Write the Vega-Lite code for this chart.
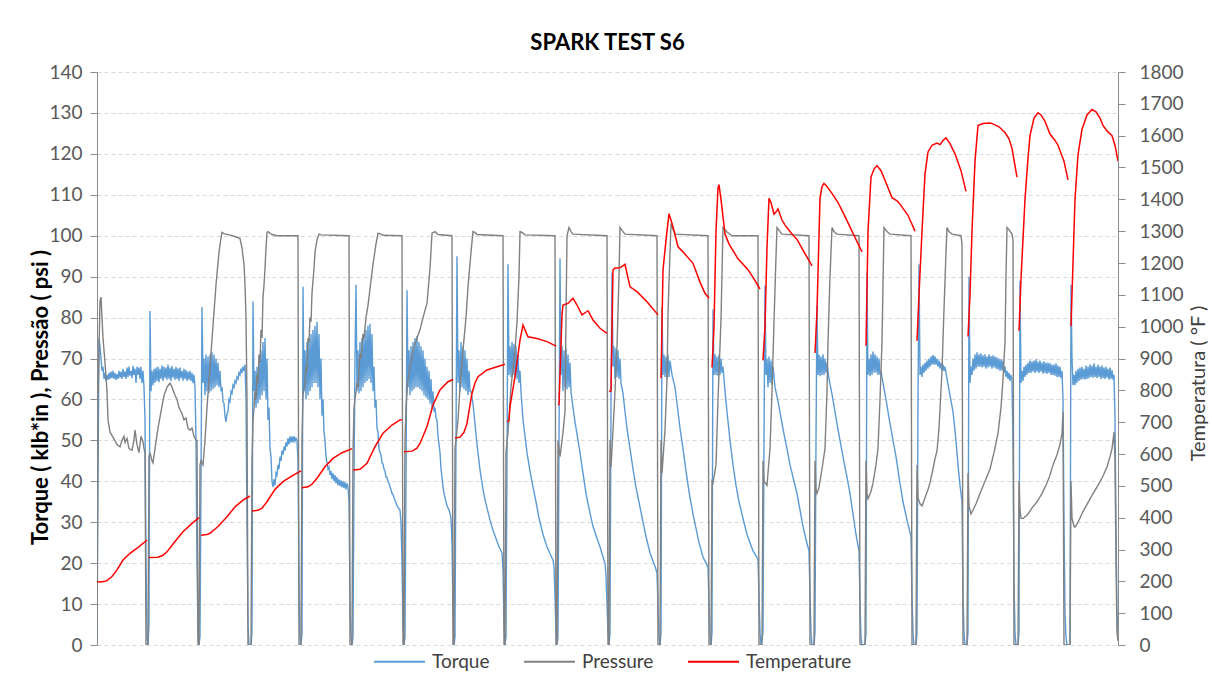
{
  "$schema": "https://vega.github.io/schema/vega-lite/v6.json",
  "width": 1021,
  "height": 573,
  "autosize": {"type": "none"},
  "padding": {"left": 97, "top": 72, "right": 94, "bottom": 48},
  "background": "#FFFFFF",
  "title": {"text": "SPARK TEST S6", "font": "Lato", "fontSize": 22, "fontWeight": "bold", "color": "#000000", "anchor": "middle", "frame": "group", "offset": 8},
  "config": {"view": {"stroke": null}, "font": "Lato"},
  "datasets": {
    "torque": [
      {"t":0,"v":0},{"t":1,"v":40},{"t":2,"v":75},{"t":3,"v":73},{"t":4,"v":70},{"t":5,"v":67},{"t":6,"v":68},{"t":7,"v":65},{"t":8,"v":66.5},{"t":9,"v":64.5},{"t":10,"v":66},{"t":11,"v":64.8},{"t":12,"v":66.5},{"t":13,"v":65},{"t":14,"v":66.8},{"t":15,"v":65.2},{"t":16,"v":67},{"t":17,"v":65},{"t":18,"v":66.5},{"t":19,"v":64.8},{"t":20,"v":66.2},{"t":21,"v":65},{"t":22,"v":67},{"t":23,"v":65.3},{"t":24,"v":66.8},{"t":25,"v":65},{"t":26,"v":67.5},{"t":27,"v":65.5},{"t":28,"v":66.8},{"t":29,"v":65},{"t":30,"v":67.8},{"t":31,"v":65.5},{"t":32,"v":68},{"t":33,"v":65.8},{"t":34,"v":67},{"t":35,"v":65.2},{"t":36,"v":68.2},{"t":37,"v":66},{"t":38,"v":67.5},{"t":39,"v":64},{"t":40,"v":68},{"t":41,"v":66},{"t":42,"v":67.8},{"t":43,"v":65},{"t":44,"v":68},{"t":45,"v":64},{"t":46,"v":67},{"t":47,"v":63},{"t":48,"v":55},{"t":49,"v":20},{"t":50,"v":2},{"t":51,"v":0},
      {"t":52,"v":5},{"t":53,"v":81.6},{"t":54,"v":62},{"t":55,"v":67},{"t":56,"v":63.5},{"t":57,"v":67.5},{"t":58,"v":64},{"t":59,"v":67.8},{"t":60,"v":64.5},{"t":61,"v":68},{"t":62,"v":64.2},{"t":63,"v":67.5},{"t":64,"v":65},{"t":65,"v":68.3},{"t":66,"v":64.5},{"t":67,"v":68},{"t":68,"v":65.2},{"t":69,"v":67.8},{"t":70,"v":64.8},{"t":71,"v":68.5},{"t":72,"v":65},{"t":73,"v":67.8},{"t":74,"v":64.5},{"t":75,"v":68.2},{"t":76,"v":65.3},{"t":77,"v":67.5},{"t":78,"v":64.8},{"t":79,"v":68},{"t":80,"v":65},{"t":81,"v":67.6},{"t":82,"v":64.5},{"t":83,"v":67.8},{"t":84,"v":65.2},{"t":85,"v":67},{"t":86,"v":64.6},{"t":87,"v":67.5},{"t":88,"v":65},{"t":89,"v":67.2},{"t":90,"v":64.5},{"t":91,"v":66.8},{"t":92,"v":64.8},{"t":93,"v":67},{"t":94,"v":64.5},{"t":95,"v":66.5},{"t":96,"v":64},{"t":97,"v":66},{"t":98,"v":63},{"t":99,"v":50},{"t":100,"v":20},{"t":101,"v":3},{"t":102,"v":0},
      {"t":103,"v":2},{"t":104,"v":40},{"t":105,"v":82.6},{"t":106,"v":64},{"t":107,"v":70},{"t":108,"v":61},{"t":109,"v":71},{"t":110,"v":62},{"t":111,"v":70.5},{"t":112,"v":61.5},{"t":113,"v":71},{"t":114,"v":62},{"t":115,"v":71.5},{"t":116,"v":62.5},{"t":117,"v":71},{"t":118,"v":63},{"t":119,"v":70},{"t":120,"v":63.5},{"t":121,"v":69},{"t":122,"v":63},{"t":123,"v":67},{"t":124,"v":62},{"t":125,"v":63},{"t":126,"v":59.5},{"t":127,"v":59},{"t":128,"v":56},{"t":129,"v":54.5},{"t":130,"v":56.5},{"t":131,"v":57},{"t":132,"v":60},{"t":133,"v":59.5},{"t":134,"v":62},{"t":135,"v":61.5},{"t":136,"v":63.5},{"t":137,"v":63},{"t":138,"v":64.5},{"t":139,"v":64},{"t":140,"v":65.5},{"t":141,"v":65},{"t":142,"v":66.5},{"t":143,"v":66},{"t":144,"v":67.5},{"t":145,"v":66.5},{"t":146,"v":68},{"t":147,"v":67},{"t":148,"v":68.5},{"t":149,"v":60},{"t":150,"v":30},{"t":151,"v":5},{"t":152,"v":0},{"t":154,"v":0},
      {"t":155,"v":3},{"t":156,"v":84},{"t":157,"v":62},{"t":158,"v":67},{"t":159,"v":58},{"t":160,"v":68},{"t":161,"v":59},{"t":162,"v":70},{"t":163,"v":60},{"t":164,"v":72},{"t":165,"v":61},{"t":166,"v":74},{"t":167,"v":62},{"t":168,"v":75},{"t":169,"v":60},{"t":170,"v":70},{"t":171,"v":55},{"t":172,"v":58},{"t":173,"v":48},{"t":174,"v":46},{"t":175,"v":40},{"t":176,"v":38.6},{"t":177,"v":40.5},{"t":178,"v":39},{"t":179,"v":42},{"t":180,"v":41.5},{"t":181,"v":44},{"t":182,"v":43},{"t":183,"v":46},{"t":184,"v":45},{"t":185,"v":47.5},{"t":186,"v":46.5},{"t":187,"v":48.5},{"t":188,"v":47.5},{"t":189,"v":49.5},{"t":190,"v":48.5},{"t":191,"v":50.5},{"t":192,"v":49},{"t":193,"v":51},{"t":194,"v":49.5},{"t":195,"v":51},{"t":196,"v":49.5},{"t":197,"v":51},{"t":198,"v":49.8},{"t":199,"v":50.5},{"t":200,"v":50},{"t":201,"v":45},{"t":202,"v":15},{"t":203,"v":2},{"t":204,"v":0},
      {"t":205,"v":3},{"t":206,"v":87.5},{"t":207,"v":62},{"t":208,"v":72},{"t":209,"v":60},{"t":210,"v":74},{"t":211,"v":61},{"t":212,"v":75},{"t":213,"v":62},{"t":214,"v":76},{"t":215,"v":63},{"t":216,"v":77},{"t":217,"v":64},{"t":218,"v":78},{"t":219,"v":64},{"t":220,"v":79},{"t":221,"v":63},{"t":222,"v":76},{"t":223,"v":60},{"t":224,"v":70},{"t":225,"v":56},{"t":226,"v":60},{"t":227,"v":52},{"t":228,"v":50},{"t":229,"v":46},{"t":230,"v":44.5},{"t":231,"v":43},{"t":232,"v":43.5},{"t":233,"v":41.5},{"t":234,"v":42.5},{"t":235,"v":40.5},{"t":236,"v":42},{"t":237,"v":40},{"t":238,"v":41.5},{"t":239,"v":39.5},{"t":240,"v":41},{"t":241,"v":39},{"t":242,"v":40.5},{"t":243,"v":38.8},{"t":244,"v":40.2},{"t":245,"v":38.5},{"t":246,"v":40},{"t":247,"v":38.3},{"t":248,"v":39.8},{"t":249,"v":38},{"t":250,"v":39.5},{"t":251,"v":38.6},{"t":252,"v":35},{"t":253,"v":10},{"t":254,"v":2},{"t":255,"v":0},
      {"t":256,"v":2},{"t":257,"v":40},{"t":258,"v":70},{"t":259,"v":88},{"t":260,"v":62},{"t":261,"v":72},{"t":262,"v":61.5},{"t":263,"v":74},{"t":264,"v":62},{"t":265,"v":75},{"t":266,"v":63},{"t":267,"v":76},{"t":268,"v":64},{"t":269,"v":77},{"t":270,"v":64.5},{"t":271,"v":78},{"t":272,"v":65},{"t":273,"v":78.5},{"t":274,"v":64},{"t":275,"v":76},{"t":276,"v":62},{"t":277,"v":68},{"t":278,"v":58},{"t":279,"v":60},{"t":280,"v":53},{"t":281,"v":52},{"t":282,"v":48},{"t":283,"v":47},{"t":284,"v":46.5},{"t":285,"v":44.5},{"t":286,"v":44.2},{"t":287,"v":43},{"t":288,"v":42.5},{"t":289,"v":41},{"t":290,"v":41},{"t":291,"v":40},{"t":292,"v":39.5},{"t":293,"v":38.6},{"t":294,"v":38},{"t":295,"v":37},{"t":296,"v":36.8},{"t":297,"v":36},{"t":298,"v":35.3},{"t":299,"v":34.8},{"t":300,"v":34},{"t":301,"v":33.7},{"t":302,"v":33.2},{"t":303,"v":33},{"t":304,"v":30},{"t":305,"v":20},{"t":306,"v":5},{"t":307,"v":0},
      {"t":308,"v":2},{"t":309,"v":40},{"t":310,"v":86.7},{"t":311,"v":63},{"t":312,"v":72},{"t":313,"v":61},{"t":314,"v":73},{"t":315,"v":62},{"t":316,"v":74},{"t":317,"v":62.5},{"t":318,"v":75},{"t":319,"v":63},{"t":320,"v":75.5},{"t":321,"v":63},{"t":322,"v":74},{"t":323,"v":62.5},{"t":324,"v":73},{"t":325,"v":62},{"t":326,"v":72},{"t":327,"v":61},{"t":328,"v":70},{"t":329,"v":60.5},{"t":330,"v":68},{"t":331,"v":60},{"t":332,"v":67},{"t":333,"v":59},{"t":334,"v":65},{"t":335,"v":58},{"t":336,"v":62},{"t":337,"v":57},{"t":338,"v":58},{"t":339,"v":55.5},{"t":340,"v":55},{"t":341,"v":51},{"t":342,"v":49},{"t":343,"v":47},{"t":344,"v":43},{"t":345,"v":41},{"t":346,"v":38.6},{"t":347,"v":37},{"t":348,"v":36},{"t":349,"v":35},{"t":350,"v":34},{"t":351,"v":33.5},{"t":352,"v":33},{"t":353,"v":32.2},{"t":354,"v":31},{"t":355,"v":25},{"t":356,"v":8},{"t":357,"v":0},
      {"t":358,"v":2},{"t":359,"v":50},{"t":360,"v":95},{"t":361,"v":64},{"t":362,"v":72},{"t":363,"v":62},{"t":364,"v":74},{"t":365,"v":63},{"t":366,"v":73},{"t":367,"v":62.5},{"t":368,"v":72},{"t":369,"v":62},{"t":370,"v":70},{"t":371,"v":61},{"t":372,"v":67},{"t":373,"v":62},{"t":374,"v":62},{"t":376,"v":59},{"t":378,"v":54},{"t":380,"v":49},{"t":383,"v":42.8},{"t":386,"v":38},{"t":388,"v":35.5},{"t":390,"v":33.5},{"t":393,"v":30.5},{"t":396,"v":28},{"t":399,"v":26},{"t":402,"v":24},{"t":405,"v":22.5},{"t":406,"v":18},{"t":407,"v":5},{"t":408,"v":0},
      {"t":409,"v":2},{"t":410,"v":45},{"t":411,"v":93},{"t":412,"v":66},{"t":413,"v":73},{"t":414,"v":65.5},{"t":415,"v":74},{"t":416,"v":66},{"t":417,"v":73.5},{"t":418,"v":65.5},{"t":419,"v":73},{"t":420,"v":65},{"t":421,"v":71},{"t":422,"v":64},{"t":423,"v":67},{"t":424,"v":62},{"t":426,"v":55},{"t":428,"v":51},{"t":430,"v":47},{"t":433,"v":42.5},{"t":436,"v":38.6},{"t":439,"v":35},{"t":442,"v":31},{"t":446,"v":27},{"t":450,"v":24},{"t":453,"v":22.3},{"t":456,"v":20.8},{"t":457,"v":19},{"t":458,"v":12},{"t":459,"v":3},{"t":460,"v":0},
      {"t":461,"v":2},{"t":462,"v":50},{"t":463,"v":94.5},{"t":464,"v":66},{"t":465,"v":73},{"t":466,"v":62},{"t":467,"v":72},{"t":468,"v":63},{"t":469,"v":72.5},{"t":470,"v":62.5},{"t":471,"v":71},{"t":472,"v":63},{"t":473,"v":69},{"t":474,"v":62},{"t":476,"v":58},{"t":478,"v":54.5},{"t":480,"v":51.5},{"t":483,"v":47},{"t":486,"v":42},{"t":489,"v":37},{"t":493,"v":32.2},{"t":496,"v":29},{"t":500,"v":26},{"t":503,"v":24},{"t":506,"v":21.5},{"t":508,"v":20},{"t":509,"v":17},{"t":510,"v":10},{"t":511,"v":3},{"t":512,"v":0},
      {"t":513,"v":3},{"t":514,"v":60},{"t":515,"v":91},{"t":516,"v":68},{"t":517,"v":73},{"t":518,"v":65},{"t":519,"v":72.5},{"t":520,"v":65.5},{"t":521,"v":72},{"t":522,"v":65},{"t":523,"v":70},{"t":524,"v":64},{"t":526,"v":61.5},{"t":528,"v":57},{"t":530,"v":53},{"t":533,"v":48},{"t":536,"v":43},{"t":539,"v":38.5},{"t":543,"v":33.7},{"t":546,"v":30},{"t":549,"v":26.5},{"t":553,"v":22.5},{"t":556,"v":20.5},{"t":559,"v":18.5},{"t":560,"v":17.5},{"t":561,"v":10},{"t":562,"v":2},{"t":563,"v":0},
      {"t":564,"v":3},{"t":565,"v":82.6},{"t":566,"v":66},{"t":567,"v":71},{"t":568,"v":65.5},{"t":569,"v":70.5},{"t":570,"v":65},{"t":571,"v":71},{"t":572,"v":65.5},{"t":573,"v":69.5},{"t":575,"v":66},{"t":578,"v":63},{"t":580,"v":59},{"t":583,"v":53},{"t":586,"v":48},{"t":589,"v":42.5},{"t":592,"v":37.5},{"t":596,"v":32},{"t":599,"v":28.5},{"t":602,"v":25},{"t":606,"v":21.5},{"t":609,"v":20},{"t":611,"v":19},{"t":612,"v":10},{"t":613,"v":2},{"t":614,"v":0},
      {"t":615,"v":3},{"t":616,"v":82},{"t":617,"v":66},{"t":618,"v":71},{"t":619,"v":66},{"t":620,"v":70.5},{"t":621,"v":65.7},{"t":622,"v":70.9},{"t":623,"v":66},{"t":624,"v":70},{"t":625,"v":66.5},{"t":626,"v":68},{"t":628,"v":62},{"t":630,"v":57},{"t":633,"v":50},{"t":636,"v":44},{"t":639,"v":39},{"t":642,"v":35},{"t":646,"v":30.9},{"t":650,"v":27},{"t":653,"v":25},{"t":656,"v":23},{"t":659,"v":21.8},{"t":661,"v":20.9},{"t":662,"v":12},{"t":663,"v":3},{"t":664,"v":0},
      {"t":666,"v":3},{"t":667,"v":50},{"t":668,"v":87.8},{"t":669,"v":66},{"t":670,"v":70},{"t":671,"v":63},{"t":672,"v":70.5},{"t":673,"v":64},{"t":674,"v":69.5},{"t":675,"v":63.5},{"t":676,"v":68},{"t":678,"v":63},{"t":681,"v":59.6},{"t":684,"v":55.5},{"t":687,"v":51.5},{"t":690,"v":48},{"t":693,"v":44},{"t":697,"v":40},{"t":700,"v":37},{"t":703,"v":33},{"t":706,"v":29},{"t":710,"v":24.8},{"t":712,"v":23},{"t":713,"v":12},{"t":714,"v":3},{"t":715,"v":0},{"t":717,"v":0},
      {"t":718,"v":3},{"t":719,"v":50},{"t":720,"v":83},{"t":721,"v":66},{"t":722,"v":70.9},{"t":723,"v":65.7},{"t":724,"v":70.5},{"t":725,"v":66},{"t":726,"v":71},{"t":727,"v":66},{"t":728,"v":70},{"t":729,"v":66.5},{"t":730,"v":69},{"t":732,"v":65},{"t":735,"v":61.3},{"t":738,"v":57},{"t":740,"v":54},{"t":743,"v":50},{"t":746,"v":46},{"t":750,"v":41},{"t":753,"v":37},{"t":756,"v":32},{"t":759,"v":27},{"t":762,"v":23},{"t":763,"v":10},{"t":764,"v":2},{"t":765,"v":0},{"t":768,"v":0},
      {"t":769,"v":3},{"t":770,"v":90.9},{"t":771,"v":66},{"t":772,"v":70},{"t":773,"v":65.7},{"t":774,"v":71},{"t":775,"v":66},{"t":776,"v":71.7},{"t":777,"v":66.5},{"t":778,"v":71},{"t":779,"v":66.5},{"t":780,"v":70.5},{"t":781,"v":66},{"t":782,"v":70},{"t":783,"v":66},{"t":784,"v":67},{"t":786,"v":64},{"t":789,"v":60},{"t":792,"v":55.5},{"t":796,"v":50},{"t":799,"v":46},{"t":802,"v":41},{"t":806,"v":35},{"t":810,"v":30.5},{"t":814,"v":26.5},{"t":815,"v":12},{"t":816,"v":3},{"t":817,"v":0},{"t":819,"v":0},
      {"t":820,"v":3},{"t":821,"v":60},{"t":822,"v":93},{"t":823,"v":66},{"t":824,"v":68},{"t":825,"v":65.5},{"t":826,"v":68.5},{"t":827,"v":66.5},{"t":828,"v":69},{"t":829,"v":67},{"t":830,"v":69.5},{"t":831,"v":67.5},{"t":832,"v":70},{"t":833,"v":68},{"t":834,"v":70.5},{"t":835,"v":68.5},{"t":836,"v":70.9},{"t":837,"v":68.5},{"t":838,"v":70.5},{"t":839,"v":68.5},{"t":840,"v":70},{"t":841,"v":68},{"t":842,"v":69.5},{"t":843,"v":67.5},{"t":844,"v":69},{"t":845,"v":67},{"t":846,"v":68.5},{"t":847,"v":67},{"t":848,"v":68},{"t":850,"v":65},{"t":853,"v":61},{"t":856,"v":57},{"t":859,"v":50},{"t":861,"v":44},{"t":863,"v":39},{"t":865,"v":35},{"t":866,"v":12},{"t":867,"v":3},{"t":868,"v":0},{"t":870,"v":0},
      {"t":871,"v":3},{"t":872,"v":90},{"t":873,"v":64},{"t":874,"v":68},{"t":875,"v":66},{"t":876,"v":70},{"t":877,"v":67},{"t":878,"v":71},{"t":879,"v":67.5},{"t":880,"v":71.5},{"t":881,"v":68},{"t":882,"v":71},{"t":883,"v":68},{"t":884,"v":71.3},{"t":885,"v":67.8},{"t":886,"v":70.8},{"t":887,"v":68},{"t":888,"v":71},{"t":889,"v":67.5},{"t":890,"v":70.5},{"t":891,"v":67.8},{"t":892,"v":71},{"t":893,"v":68},{"t":894,"v":70.6},{"t":895,"v":67.5},{"t":896,"v":70.8},{"t":897,"v":67.8},{"t":898,"v":70.5},{"t":899,"v":67.5},{"t":900,"v":70.3},{"t":901,"v":67.3},{"t":902,"v":70},{"t":903,"v":67},{"t":904,"v":69.8},{"t":905,"v":67},{"t":906,"v":69.5},{"t":907,"v":66.5},{"t":908,"v":68},{"t":909,"v":65.5},{"t":910,"v":67},{"t":911,"v":65},{"t":912,"v":66.5},{"t":913,"v":64.5},{"t":914,"v":66},{"t":915,"v":64.8},{"t":916,"v":48},{"t":917,"v":15},{"t":918,"v":3},{"t":919,"v":0},{"t":921,"v":0},
      {"t":922,"v":3},{"t":923,"v":89},{"t":924,"v":64},{"t":925,"v":67},{"t":926,"v":64.5},{"t":927,"v":68},{"t":928,"v":65.5},{"t":929,"v":68.5},{"t":930,"v":66},{"t":931,"v":69},{"t":932,"v":66.5},{"t":933,"v":69.5},{"t":934,"v":66.5},{"t":935,"v":69.3},{"t":936,"v":66.8},{"t":937,"v":69.5},{"t":938,"v":66.5},{"t":939,"v":69.8},{"t":940,"v":66.8},{"t":941,"v":69.2},{"t":942,"v":66.5},{"t":943,"v":69.5},{"t":944,"v":66.8},{"t":945,"v":69},{"t":946,"v":66.3},{"t":947,"v":69.3},{"t":948,"v":66.5},{"t":949,"v":69},{"t":950,"v":66.2},{"t":951,"v":69},{"t":952,"v":66.5},{"t":953,"v":68.8},{"t":954,"v":66},{"t":955,"v":68.5},{"t":956,"v":66},{"t":957,"v":68.5},{"t":958,"v":65.8},{"t":959,"v":68.8},{"t":960,"v":65.5},{"t":961,"v":68.3},{"t":962,"v":65.5},{"t":963,"v":68},{"t":964,"v":65.2},{"t":965,"v":67},{"t":966,"v":60},{"t":967,"v":30},{"t":968,"v":8},{"t":969,"v":2},{"t":970,"v":0},{"t":973,"v":0},
      {"t":974,"v":88},{"t":975,"v":70},{"t":976,"v":63.5},{"t":977,"v":66},{"t":978,"v":63.5},{"t":979,"v":67},{"t":980,"v":64},{"t":981,"v":67.5},{"t":982,"v":64.5},{"t":983,"v":67.8},{"t":984,"v":64.8},{"t":985,"v":68},{"t":986,"v":65},{"t":987,"v":67.5},{"t":988,"v":64.8},{"t":989,"v":68.3},{"t":990,"v":65},{"t":991,"v":68},{"t":992,"v":65.2},{"t":993,"v":68.5},{"t":994,"v":65.5},{"t":995,"v":68.2},{"t":996,"v":65.3},{"t":997,"v":68.8},{"t":998,"v":65.5},{"t":999,"v":68},{"t":1000,"v":65.2},{"t":1001,"v":68.5},{"t":1002,"v":65.5},{"t":1003,"v":68},{"t":1004,"v":65},{"t":1005,"v":68.3},{"t":1006,"v":65.2},{"t":1007,"v":67.8},{"t":1008,"v":65},{"t":1009,"v":68},{"t":1010,"v":65.3},{"t":1011,"v":67.5},{"t":1012,"v":64.8},{"t":1013,"v":67.8},{"t":1014,"v":65},{"t":1015,"v":67.2},{"t":1016,"v":64.8},{"t":1017,"v":66},{"t":1018,"v":55},{"t":1019,"v":30},{"t":1020,"v":8},{"t":1021,"v":3}
    ],
    "pressure": [
      {"t":0,"v":0},{"t":1,"v":60},{"t":3,"v":84},{"t":4,"v":85},{"t":6,"v":75},{"t":8,"v":69},{"t":10,"v":62},{"t":11,"v":55},{"t":13,"v":52},{"t":16,"v":50.8},{"t":20,"v":49},{"t":23,"v":48.4},{"t":25,"v":50},{"t":27,"v":51},{"t":28,"v":49.5},{"t":30,"v":50.5},{"t":32,"v":48},{"t":35,"v":47.6},{"t":37,"v":50},{"t":38,"v":52.5},{"t":40,"v":49},{"t":42,"v":47},{"t":44,"v":51},{"t":46,"v":49.6},{"t":47,"v":48},{"t":48,"v":47},{"t":49,"v":0},{"t":51,"v":0},
      {"t":52,"v":46},{"t":53,"v":47},{"t":55,"v":45},{"t":56,"v":44.5},{"t":58,"v":48},{"t":61,"v":53},{"t":64,"v":57},{"t":67,"v":61},{"t":70,"v":63},{"t":73,"v":64},{"t":75,"v":63},{"t":78,"v":61},{"t":80,"v":60},{"t":82,"v":58},{"t":85,"v":56.5},{"t":87,"v":55},{"t":89,"v":55.5},{"t":91,"v":53},{"t":93,"v":52.5},{"t":95,"v":53},{"t":97,"v":51},{"t":99,"v":50},{"t":100,"v":50},{"t":101,"v":0},{"t":102,"v":0},
      {"t":103,"v":44},{"t":104,"v":45},{"t":106,"v":44},{"t":108,"v":50},{"t":110,"v":58},{"t":113,"v":68},{"t":116,"v":78},{"t":119,"v":88},{"t":122,"v":96},{"t":124,"v":99.5},{"t":125,"v":100.8},{"t":127,"v":100.5},{"t":132,"v":100.2},{"t":138,"v":99.8},{"t":143,"v":99.3},{"t":145,"v":97},{"t":147,"v":93},{"t":148,"v":88},{"t":149,"v":80},{"t":150,"v":60},{"t":151,"v":0},{"t":154,"v":0},
      {"t":155,"v":45},{"t":156,"v":55},{"t":157,"v":58},{"t":158,"v":62},{"t":159,"v":60},{"t":160,"v":66},{"t":161,"v":64},{"t":162,"v":71},{"t":163,"v":69},{"t":164,"v":77},{"t":165,"v":75},{"t":166,"v":85},{"t":167,"v":88},{"t":168,"v":92},{"t":169,"v":97},{"t":170,"v":100.8},{"t":171,"v":101},{"t":175,"v":100.3},{"t":180,"v":100},{"t":201,"v":100},{"t":202,"v":0},{"t":204,"v":0},
      {"t":205,"v":50},{"t":206,"v":61},{"t":208,"v":64},{"t":209,"v":68},{"t":210,"v":67},{"t":211,"v":75},{"t":212,"v":74},{"t":213,"v":80},{"t":214,"v":79},{"t":215,"v":86},{"t":217,"v":92},{"t":218,"v":96},{"t":220,"v":99},{"t":222,"v":100.4},{"t":224,"v":100.2},{"t":252,"v":100},{"t":253,"v":0},{"t":255,"v":0},
      {"t":256,"v":47},{"t":257,"v":58},{"t":260,"v":64},{"t":261,"v":63},{"t":263,"v":71},{"t":264,"v":70},{"t":266,"v":76},{"t":267,"v":75},{"t":269,"v":80},{"t":271,"v":83},{"t":273,"v":87},{"t":276,"v":93},{"t":279,"v":98},{"t":281,"v":100.6},{"t":283,"v":100.5},{"t":286,"v":100.1},{"t":305,"v":100},{"t":306,"v":0},{"t":307,"v":0},
      {"t":308,"v":50},{"t":309,"v":58},{"t":311,"v":65},{"t":313,"v":68},{"t":316,"v":72},{"t":320,"v":75},{"t":323,"v":77},{"t":326,"v":80},{"t":330,"v":83.5},{"t":333,"v":92},{"t":335,"v":100.6},{"t":338,"v":101},{"t":341,"v":100.3},{"t":355,"v":100},{"t":356,"v":0},{"t":357,"v":0},
      {"t":358,"v":48},{"t":359,"v":50},{"t":361,"v":55},{"t":363,"v":63},{"t":366,"v":72},{"t":369,"v":80},{"t":371,"v":87.5},{"t":374,"v":96},{"t":376,"v":101},{"t":378,"v":100.8},{"t":380,"v":100.3},{"t":406,"v":100},{"t":407,"v":0},{"t":408,"v":0},
      {"t":409,"v":47},{"t":411,"v":52},{"t":414,"v":63},{"t":418,"v":72},{"t":420,"v":79},{"t":422,"v":90},{"t":423,"v":101},{"t":425,"v":100.8},{"t":428,"v":100.2},{"t":458,"v":100},{"t":459,"v":0},{"t":460,"v":0},
      {"t":461,"v":50},{"t":463,"v":46},{"t":466,"v":52},{"t":468,"v":57},{"t":469,"v":80},{"t":470,"v":100},{"t":472,"v":102},{"t":474,"v":101},{"t":476,"v":100.4},{"t":510,"v":100},{"t":511,"v":0},{"t":512,"v":0},
      {"t":513,"v":50},{"t":514,"v":43.5},{"t":516,"v":52.5},{"t":518,"v":62},{"t":520,"v":73},{"t":522,"v":90},{"t":523,"v":102},{"t":525,"v":101.3},{"t":528,"v":100.4},{"t":560,"v":100},{"t":561,"v":0},{"t":563,"v":0},
      {"t":564,"v":50},{"t":565,"v":42},{"t":568,"v":52.5},{"t":570,"v":65},{"t":571,"v":81},{"t":573,"v":96},{"t":574,"v":103},{"t":576,"v":101.5},{"t":578,"v":100.4},{"t":611,"v":100},{"t":612,"v":0},{"t":614,"v":0},
      {"t":615,"v":40},{"t":616,"v":39.6},{"t":619,"v":44},{"t":621,"v":60},{"t":624,"v":79.6},{"t":626,"v":102},{"t":630,"v":100.9},{"t":635,"v":100},{"t":661,"v":100},{"t":662,"v":0},{"t":665,"v":0},
      {"t":666,"v":45},{"t":667,"v":40},{"t":670,"v":39},{"t":673,"v":48},{"t":675,"v":62},{"t":677,"v":79},{"t":679,"v":95},{"t":680,"v":102},{"t":683,"v":101},{"t":685,"v":100.4},{"t":712,"v":100},{"t":713,"v":0},{"t":717,"v":0},
      {"t":718,"v":45},{"t":719,"v":38},{"t":720,"v":37},{"t":722,"v":38.5},{"t":725,"v":43},{"t":728,"v":48},{"t":730,"v":62},{"t":731,"v":74},{"t":733,"v":90},{"t":735,"v":102},{"t":737,"v":101},{"t":740,"v":100.4},{"t":762,"v":100},{"t":763,"v":0},{"t":768,"v":0},
      {"t":769,"v":45},{"t":770,"v":37},{"t":771,"v":35.7},{"t":774,"v":37.5},{"t":776,"v":39.6},{"t":779,"v":44},{"t":781,"v":48},{"t":783,"v":60},{"t":785,"v":74},{"t":787,"v":102},{"t":790,"v":101},{"t":793,"v":100.4},{"t":814,"v":100},{"t":815,"v":0},{"t":819,"v":0},
      {"t":820,"v":44},{"t":821,"v":36},{"t":823,"v":34.5},{"t":825,"v":34},{"t":828,"v":36},{"t":831,"v":38},{"t":833,"v":39.6},{"t":836,"v":43},{"t":838,"v":45.5},{"t":840,"v":47.4},{"t":842,"v":53},{"t":845,"v":67},{"t":847,"v":82},{"t":849,"v":96},{"t":850,"v":102},{"t":852,"v":101},{"t":855,"v":100.4},{"t":864,"v":100},{"t":865,"v":98},{"t":866,"v":0},{"t":870,"v":0},
      {"t":871,"v":42},{"t":872,"v":34},{"t":874,"v":32},{"t":876,"v":33},{"t":879,"v":34.5},{"t":883,"v":37},{"t":888,"v":40},{"t":893,"v":43},{"t":897,"v":47},{"t":901,"v":51.7},{"t":904,"v":58},{"t":906,"v":65},{"t":908,"v":74},{"t":909,"v":90},{"t":910,"v":102},{"t":912,"v":101.5},{"t":915,"v":100.4},{"t":916,"v":99},{"t":917,"v":0},{"t":921,"v":0},
      {"t":922,"v":40},{"t":923,"v":33},{"t":924,"v":31},{"t":926,"v":30.9},{"t":929,"v":31.5},{"t":931,"v":32},{"t":935,"v":33.5},{"t":940,"v":35},{"t":945,"v":37},{"t":950,"v":39.6},{"t":953,"v":41.5},{"t":956,"v":44},{"t":960,"v":46.5},{"t":963,"v":49},{"t":965,"v":51.7},{"t":966,"v":57},{"t":967,"v":0},{"t":973,"v":0},
      {"t":974,"v":40},{"t":975,"v":31},{"t":977,"v":29},{"t":978,"v":28.8},{"t":981,"v":30},{"t":986,"v":32.6},{"t":991,"v":34.8},{"t":996,"v":37},{"t":1001,"v":39},{"t":1006,"v":41.3},{"t":1010,"v":43.5},{"t":1013,"v":46},{"t":1015,"v":48},{"t":1017,"v":52},{"t":1018,"v":45},{"t":1019,"v":20},{"t":1020,"v":3},{"t":1021,"v":1}
    ],
    "temperature": [
      {"c":1,"t":0,"v":199},{"c":1,"t":3,"v":198},{"c":1,"t":8,"v":200},{"c":1,"t":10,"v":202},{"c":1,"t":15,"v":215},{"c":1,"t":20,"v":236},{"c":1,"t":26,"v":267},{"c":1,"t":33,"v":288},{"c":1,"t":40,"v":304},{"c":1,"t":46,"v":319},{"c":1,"t":50,"v":330},
      {"c":2,"t":52,"v":275},{"c":2,"t":61,"v":276},{"c":2,"t":66,"v":282},{"c":2,"t":70,"v":293},{"c":2,"t":78,"v":325},{"c":2,"t":86,"v":356},{"c":2,"t":95,"v":382},{"c":2,"t":102,"v":400},
      {"c":3,"t":104,"v":345},{"c":3,"t":110,"v":347},{"c":3,"t":113,"v":351},{"c":3,"t":121,"v":372},{"c":3,"t":130,"v":403},{"c":3,"t":138,"v":434},{"c":3,"t":146,"v":455},{"c":3,"t":153,"v":468},
      {"c":4,"t":155,"v":421},{"c":4,"t":161,"v":423},{"c":4,"t":165,"v":430},{"c":4,"t":170,"v":450},{"c":4,"t":178,"v":489},{"c":4,"t":186,"v":513},{"c":4,"t":195,"v":531},{"c":4,"t":204,"v":547},
      {"c":5,"t":205,"v":494},{"c":5,"t":211,"v":497},{"c":5,"t":215,"v":505},{"c":5,"t":220,"v":524},{"c":5,"t":228,"v":560},{"c":5,"t":236,"v":586},{"c":5,"t":245,"v":604},{"c":5,"t":255,"v":617},
      {"c":6,"t":256,"v":550},{"c":6,"t":263,"v":552},{"c":6,"t":270,"v":571},{"c":6,"t":278,"v":623},{"c":6,"t":286,"v":665},{"c":6,"t":295,"v":691},{"c":6,"t":303,"v":707},{"c":6,"t":305,"v":708},
      {"c":7,"t":307,"v":607},{"c":7,"t":315,"v":609},{"c":7,"t":320,"v":618},{"c":7,"t":323,"v":633},{"c":7,"t":330,"v":686},{"c":7,"t":336,"v":754},{"c":7,"t":343,"v":801},{"c":7,"t":351,"v":827},{"c":7,"t":356,"v":834},
      {"c":8,"t":358,"v":650},{"c":8,"t":363,"v":653},{"c":8,"t":367,"v":668},{"c":8,"t":370,"v":696},{"c":8,"t":375,"v":791},{"c":8,"t":378,"v":823},{"c":8,"t":381,"v":843},{"c":8,"t":390,"v":864},{"c":8,"t":400,"v":874},{"c":8,"t":408,"v":882},
      {"c":9,"t":410,"v":701},{"c":9,"t":412,"v":705},{"c":9,"t":413,"v":749},{"c":9,"t":418,"v":843},{"c":9,"t":423,"v":958},{"c":9,"t":426,"v":1005},{"c":9,"t":428,"v":990},{"c":9,"t":431,"v":968},{"c":9,"t":440,"v":963},{"c":9,"t":450,"v":953},{"c":9,"t":459,"v":939},
      {"c":10,"t":461,"v":754},{"c":10,"t":462,"v":756},{"c":10,"t":465,"v":1037},{"c":10,"t":466,"v":1068},{"c":10,"t":471,"v":1073},{"c":10,"t":476,"v":1089},{"c":10,"t":480,"v":1068},{"c":10,"t":485,"v":1037},{"c":10,"t":491,"v":1050},{"c":10,"t":496,"v":1021},{"c":10,"t":503,"v":995},{"c":10,"t":510,"v":979},
      {"c":11,"t":512,"v":796},{"c":11,"t":514,"v":798},{"c":11,"t":516,"v":1178},{"c":11,"t":518,"v":1184},{"c":11,"t":523,"v":1185},{"c":11,"t":528,"v":1196},{"c":11,"t":533,"v":1125},{"c":11,"t":540,"v":1110},{"c":11,"t":550,"v":1078},{"c":11,"t":561,"v":1037},
      {"c":12,"t":564,"v":838},{"c":12,"t":566,"v":1178},{"c":12,"t":569,"v":1272},{"c":12,"t":572,"v":1355},{"c":12,"t":576,"v":1314},{"c":12,"t":581,"v":1251},{"c":12,"t":586,"v":1235},{"c":12,"t":596,"v":1199},{"c":12,"t":603,"v":1140},{"c":12,"t":608,"v":1105},{"c":12,"t":612,"v":1089},
      {"c":13,"t":615,"v":872},{"c":13,"t":617,"v":1000},{"c":13,"t":619,"v":1300},{"c":13,"t":621,"v":1436},{"c":13,"t":622,"v":1446},{"c":13,"t":624,"v":1400},{"c":13,"t":628,"v":1291},{"c":13,"t":632,"v":1260},{"c":13,"t":641,"v":1213},{"c":13,"t":651,"v":1179},{"c":13,"t":657,"v":1150},{"c":13,"t":663,"v":1118},
      {"c":14,"t":666,"v":894},{"c":14,"t":668,"v":1000},{"c":14,"t":670,"v":1250},{"c":14,"t":672,"v":1403},{"c":14,"t":674,"v":1390},{"c":14,"t":677,"v":1353},{"c":14,"t":679,"v":1360},{"c":14,"t":681,"v":1370},{"c":14,"t":685,"v":1335},{"c":14,"t":688,"v":1319},{"c":14,"t":694,"v":1295},{"c":14,"t":700,"v":1274},{"c":14,"t":707,"v":1235},{"c":14,"t":715,"v":1191},
      {"c":15,"t":718,"v":917},{"c":15,"t":720,"v":1050},{"c":15,"t":723,"v":1403},{"c":15,"t":725,"v":1440},{"c":15,"t":727,"v":1450},{"c":15,"t":730,"v":1440},{"c":15,"t":736,"v":1414},{"c":15,"t":741,"v":1390},{"c":15,"t":746,"v":1359},{"c":15,"t":752,"v":1320},{"c":15,"t":758,"v":1280},{"c":15,"t":765,"v":1235},
      {"c":16,"t":769,"v":940},{"c":16,"t":771,"v":1300},{"c":16,"t":774,"v":1470},{"c":16,"t":777,"v":1495},{"c":16,"t":780,"v":1506},{"c":16,"t":784,"v":1490},{"c":16,"t":788,"v":1460},{"c":16,"t":795,"v":1405},{"c":16,"t":800,"v":1395},{"c":16,"t":803,"v":1385},{"c":16,"t":811,"v":1350},{"c":16,"t":818,"v":1300},
      {"c":17,"t":820,"v":956},{"c":17,"t":822,"v":1100},{"c":17,"t":825,"v":1300},{"c":17,"t":828,"v":1480},{"c":17,"t":831,"v":1549},{"c":17,"t":835,"v":1570},{"c":17,"t":840,"v":1577},{"c":17,"t":843,"v":1572},{"c":17,"t":846,"v":1585},{"c":17,"t":849,"v":1593},{"c":17,"t":853,"v":1575},{"c":17,"t":858,"v":1543},{"c":17,"t":864,"v":1490},{"c":17,"t":869,"v":1425},
      {"c":18,"t":871,"v":969},{"c":18,"t":873,"v":1100},{"c":18,"t":875,"v":1300},{"c":18,"t":878,"v":1520},{"c":18,"t":881,"v":1632},{"c":18,"t":886,"v":1638},{"c":18,"t":893,"v":1640},{"c":18,"t":896,"v":1637},{"c":18,"t":902,"v":1628},{"c":18,"t":908,"v":1610},{"c":18,"t":912,"v":1590},{"c":18,"t":915,"v":1560},{"c":18,"t":920,"v":1470},
      {"c":19,"t":922,"v":987},{"c":19,"t":924,"v":1150},{"c":19,"t":928,"v":1400},{"c":19,"t":931,"v":1530},{"c":19,"t":933,"v":1600},{"c":19,"t":937,"v":1655},{"c":19,"t":941,"v":1672},{"c":19,"t":944,"v":1665},{"c":19,"t":948,"v":1645},{"c":19,"t":953,"v":1605},{"c":19,"t":958,"v":1585},{"c":19,"t":961,"v":1570},{"c":19,"t":967,"v":1520},{"c":19,"t":971,"v":1461},
      {"c":20,"t":974,"v":1001},{"c":20,"t":976,"v":1200},{"c":20,"t":978,"v":1400},{"c":20,"t":981,"v":1540},{"c":20,"t":985,"v":1620},{"c":20,"t":990,"v":1665},{"c":20,"t":995,"v":1682},{"c":20,"t":999,"v":1675},{"c":20,"t":1003,"v":1655},{"c":20,"t":1006,"v":1632},{"c":20,"t":1010,"v":1615},{"c":20,"t":1015,"v":1600},{"c":20,"t":1018,"v":1570},{"c":20,"t":1021,"v":1520}
    ]
  },
  "encoding": {
    "x": {"field": "t", "type": "quantitative", "scale": {"domain": [0, 1021], "nice": false, "zero": false}, "axis": null}
  },
  "layer": [
    {
      "data": {"name": "torque"},
      "mark": {"type": "line", "strokeWidth": 1.4, "clip": true},
      "encoding": {
        "y": {"field": "v", "type": "quantitative", "scale": {"domain": [0, 140], "nice": false},
          "axis": {"values": [0,10,20,30,40,50,60,70,80,90,100,110,120,130,140], "grid": true, "gridDash": [4, 3], "gridColor": "#D9D9D9", "domainColor": "#8C8C8C", "tickColor": "#8C8C8C", "tickSize": 7, "labelPadding": 8, "labelFont": "Lato", "labelFontSize": 19, "labelColor": "#595959",
            "title": "Torque ( klb*in ), Pressão ( psi )", "titleFont": "Lato", "titleFontSize": 22, "titleFontWeight": "bold", "titleColor": "#000000", "titleAngle": -90, "titleBaseline": "middle", "titleX": -57, "titleY": 325}},
        "color": {"datum": "Torque", "type": "nominal",
          "scale": {"domain": ["Torque", "Pressure", "Temperature"], "range": ["#5B9BD5", "#808080", "#FF0000"]},
          "legend": {"orient": "none", "legendX": 276, "legendY": 563, "direction": "horizontal", "title": null, "symbolType": "stroke", "symbolSize": 2600, "symbolStrokeWidth": 2, "labelFont": "Lato", "labelFontSize": 19, "labelColor": "#404040", "labelOffset": 6, "columnPadding": 30}}
      }
    },
    {
      "data": {"name": "pressure"},
      "mark": {"type": "line", "strokeWidth": 1.4, "clip": true},
      "encoding": {
        "y": {"field": "v", "type": "quantitative", "scale": {"domain": [0, 140], "nice": false}, "axis": null},
        "color": {"datum": "Pressure", "type": "nominal"}
      }
    },
    {
      "data": {"name": "temperature"},
      "mark": {"type": "line", "strokeWidth": 1.5, "clip": true},
      "encoding": {
        "y": {"field": "v", "type": "quantitative", "scale": {"domain": [0, 1800], "nice": false},
          "axis": {"orient": "right", "format": "d", "values": [0,100,200,300,400,500,600,700,800,900,1000,1100,1200,1300,1400,1500,1600,1700,1800], "grid": false, "domainColor": "#8C8C8C", "tickColor": "#8C8C8C", "tickSize": 7, "labelPadding": 14, "labelFont": "Lato", "labelFontSize": 19, "labelColor": "#595959",
            "title": "Temperatura ( °F )", "titleFont": "Lato", "titleFontSize": 20, "titleFontWeight": "normal", "titleColor": "#404040", "titleAngle": -90, "titleBaseline": "middle", "titleX": 80, "titleY": 311}},
        "color": {"datum": "Temperature", "type": "nominal"},
        "detail": {"field": "c", "type": "nominal"}
      }
    }
  ],
  "resolve": {"scale": {"y": "independent"}}
}
